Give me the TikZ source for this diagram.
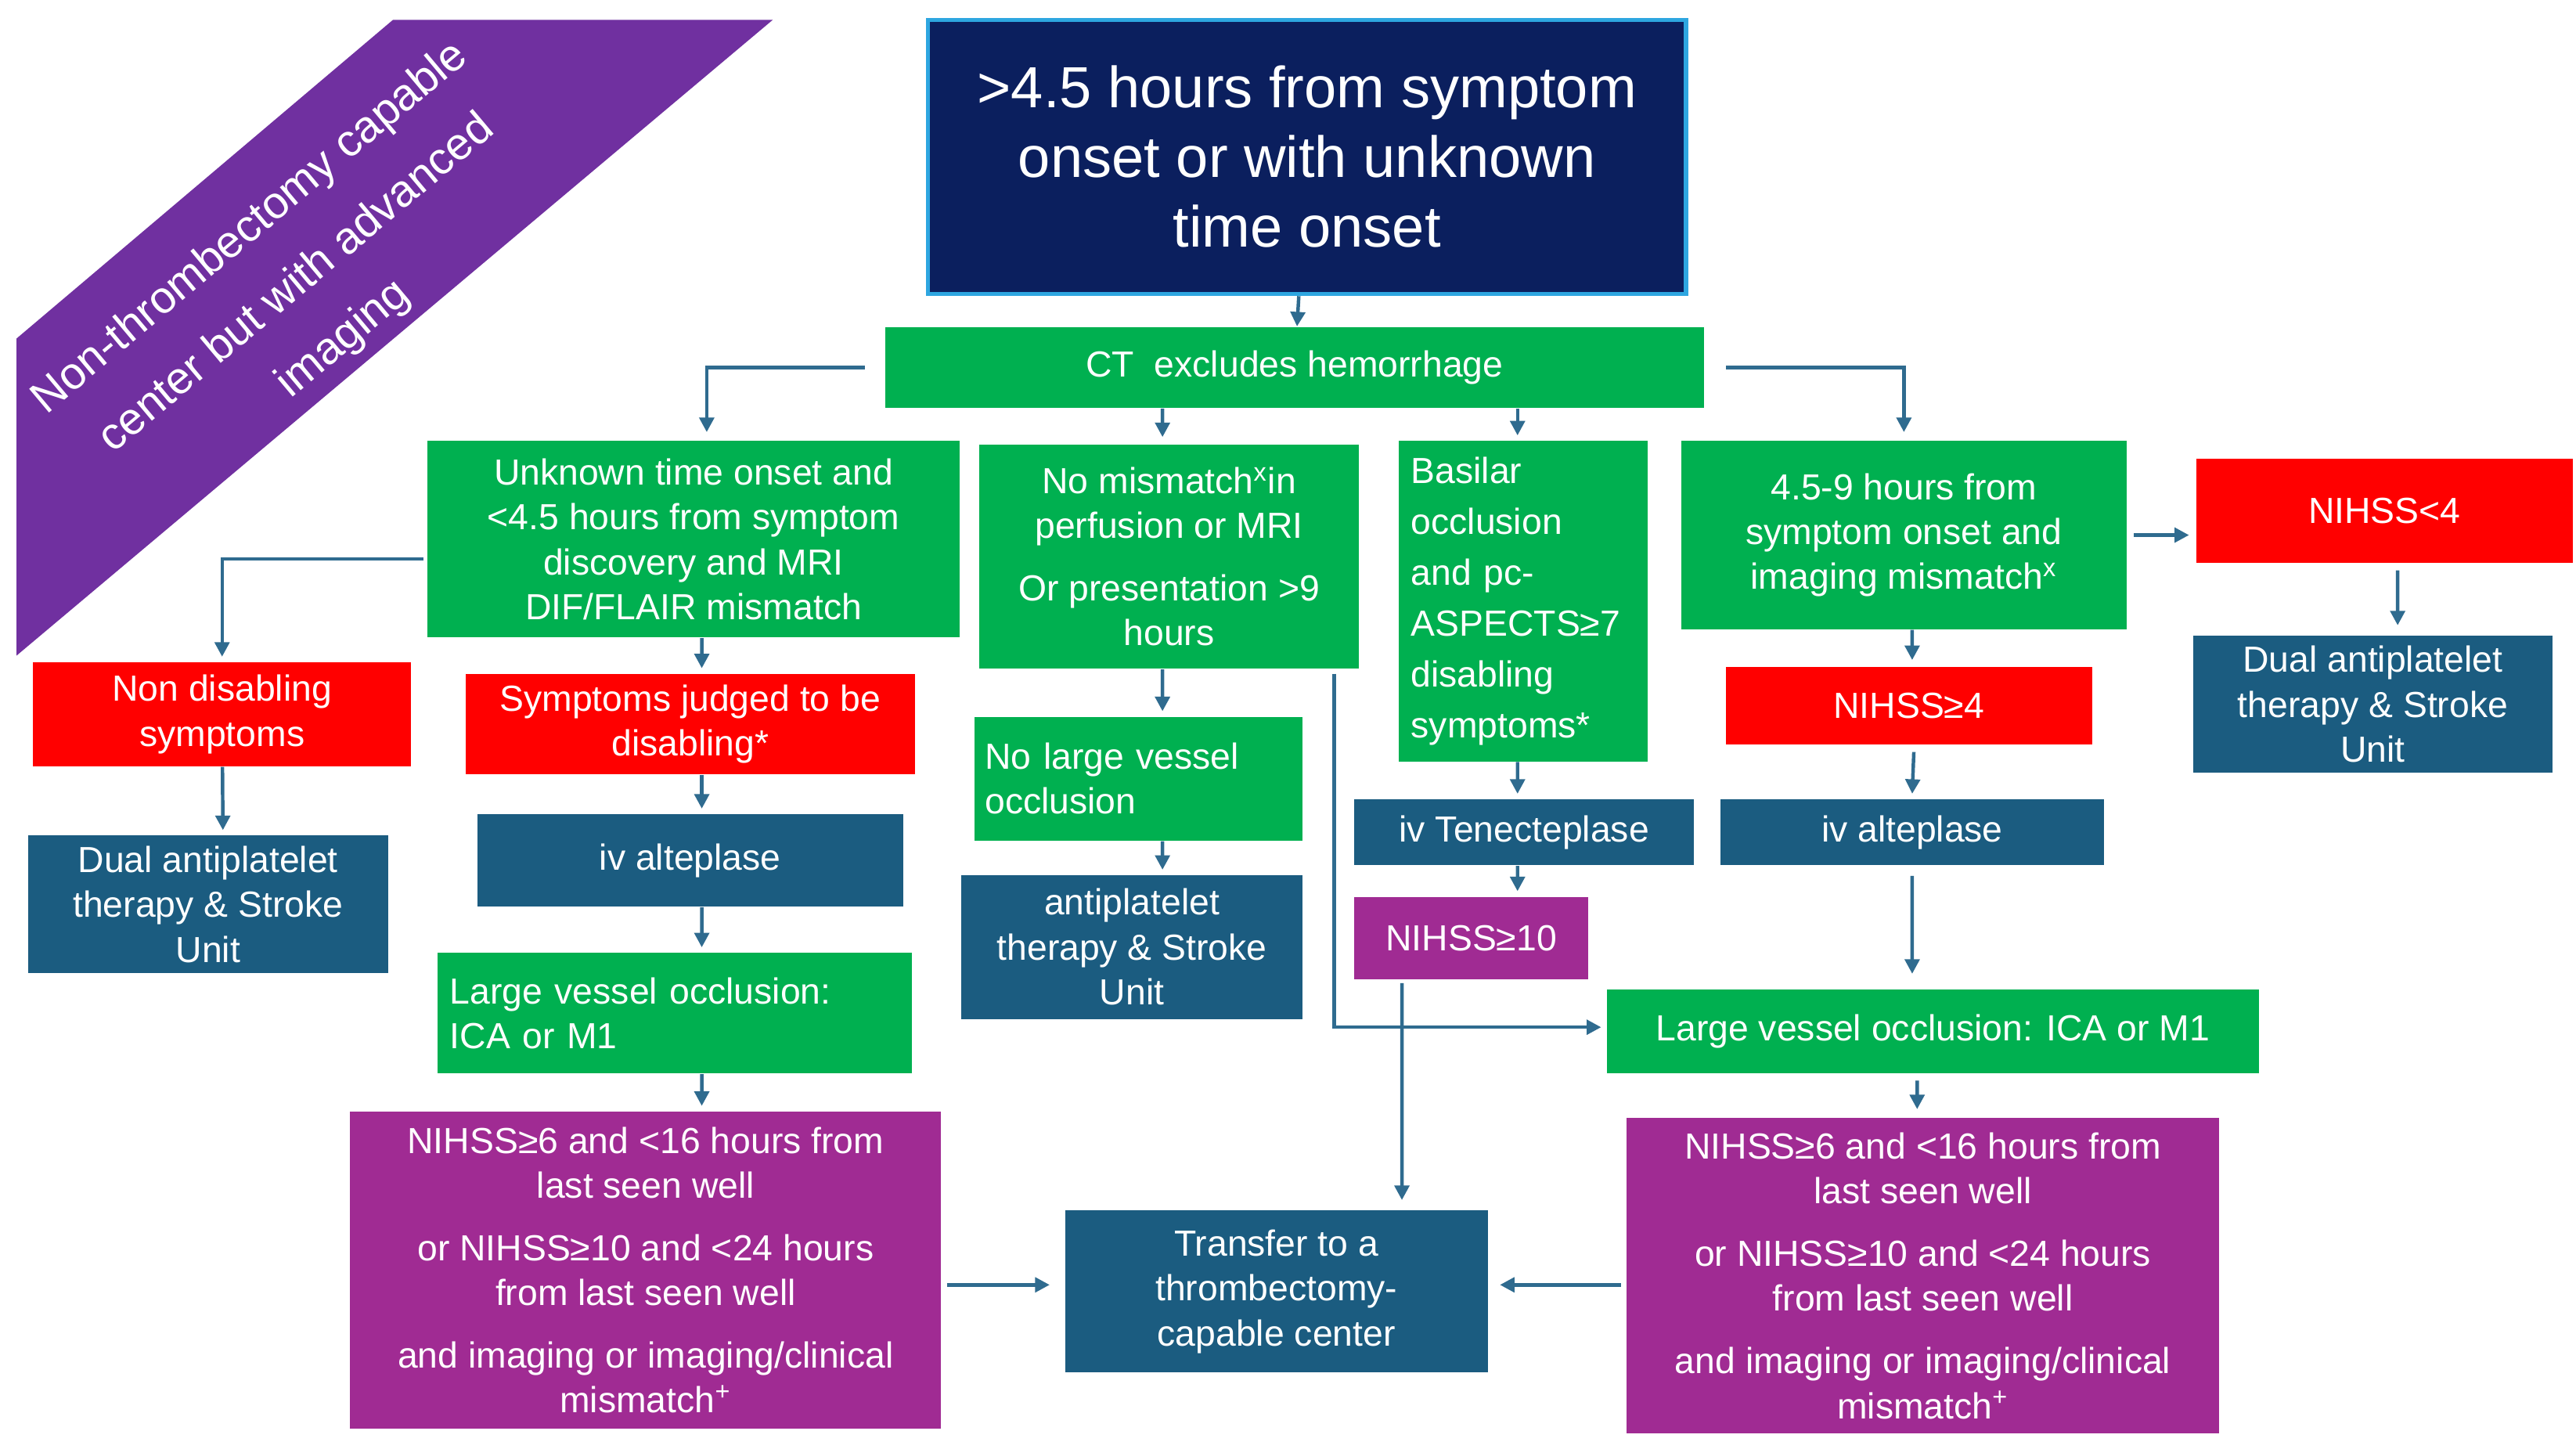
\documentclass[tikz,border=0pt]{standalone}
\usepackage{fontspec}
\setmainfont{Liberation Sans}
\usetikzlibrary{arrows.meta}
\definecolor{grn}{HTML}{00B050}
\definecolor{rd}{HTML}{FF0000}
\definecolor{bl}{HTML}{1B5C80}
\definecolor{pu}{HTML}{A02B93}
\definecolor{ban}{HTML}{7030A0}
\definecolor{navy}{HTML}{0B1F5E}
\definecolor{ln}{HTML}{2F6B8F}
\definecolor{lbl}{HTML}{2EA6E0}
\begin{document}
\begin{tikzpicture}[x=0.02cm,y=-0.02cm,
  bx/.style 2 args={minimum width=#1*0.02cm, minimum height=#2*0.02cm, inner sep=2pt, text=white, align=center, font=\fontsize{12.5}{15.5}\selectfont},
  g/.style={fill=grn}, r/.style={fill=rd}, b/.style={fill=bl}, p/.style={fill=pu},
  arr/.style={draw=ln, line width=1.2pt, -{Triangle[length=5pt,width=5pt]}}]
\useasboundingbox (0,0) rectangle (1560,877);
% banner
\fill[ban] (10,205) -- (238,12) -- (468,12) -- (10,397) -- cycle;
\node[rotate=40, text=white, align=center, font=\fontsize{15.5}{25}\selectfont] (ban) at (180,172) {Non-thrombectomy capable\\center but with advanced\\imaging};
% nodes
\node[bx={459}{166}, fill=navy, draw=lbl, line width=1.5pt, font=\fontsize{20}{24}\selectfont] (top) at (791.5,95) {>4.5 hours from symptom\\onset or with unknown\\time onset};
\node[bx={496}{49}, g] (ct) at (784,222.5) {CT \ excludes hemorrhage};
\node[bx={322}{119}, g] (unk) at (420,326.5) {Unknown time onset and\\<4.5 hours from symptom\\discovery and MRI\\DIF/FLAIR mismatch};
\node[bx={230}{136}, g] (nom) at (708,337) {No mismatch\textsuperscript{x}in\\perfusion or MRI\\[6pt]Or presentation >9\\hours};
\node[bx={151}{194}, g, align=left, font=\fontsize{12.5}{17.5}\selectfont, text width=136*0.02cm] (bas) at (922.5,364) {Basilar\\occlusion\\and pc-\\ASPECTS≥7\\disabling\\symptoms*};
\node[bx={270}{114}, g] (h45) at (1153,324) {4.5-9 hours from\\symptom onset and\\imaging mismatch\textsuperscript{x}};
\node[bx={228}{63}, r] (n4l) at (1444,309.5) {NIHSS<4};
\node[bx={218}{83}, b] (dualr) at (1437,426.5) {Dual antiplatelet\\therapy \& Stroke\\Unit};
\node[bx={229}{63}, r] (nond) at (134.5,432.5) {Non disabling\\symptoms};
\node[bx={272}{61}, r] (sym) at (418,438.5) {Symptoms judged to be\\disabling*};
\node[bx={222}{47}, r] (n4g) at (1156,427.5) {NIHSS≥4};
\node[bx={218}{83}, b] (duall) at (126,547.5) {Dual antiplatelet\\therapy \& Stroke\\Unit};
\node[bx={258}{56}, b] (alt1) at (418,521) {iv alteplase};
\node[bx={199}{75}, g, align=left, text width=186*0.02cm] (nolv) at (689.5,471.5) {No large vessel\\occlusion};
\node[bx={207}{87}, b] (anti) at (685.5,573.5) {antiplatelet\\therapy \& Stroke\\Unit};
\node[bx={206}{40}, b] (ten) at (923,504) {iv Tenecteplase};
\node[bx={232}{40}, b] (alt2) at (1158,504) {iv alteplase};
\node[bx={142}{50}, p] (n10) at (891,568) {NIHSS≥10};
\node[bx={287}{73}, g, align=left, text width=272*0.02cm] (lvo1) at (408.5,613.5) {Large vessel occlusion:\\ICA or M1};
\node[bx={395}{51}, g] (lvo2) at (1170.5,624.5) {Large vessel occlusion: ICA or M1};
\node[bx={358}{192}, p] (pl) at (391,769) {NIHSS≥6 and <16 hours from\\last seen well\\[6pt]or NIHSS≥10 and <24 hours\\from last seen well\\[6pt]and imaging or imaging/clinical\\mismatch\textsuperscript{+}};
\node[bx={256}{98}, b] (tr) at (773,782) {Transfer to a\\thrombectomy-\\capable center};
\node[bx={359}{191}, p] (pr) at (1164.5,772.5) {NIHSS≥6 and <16 hours from\\last seen well\\[6pt]or NIHSS≥10 and <24 hours\\from last seen well\\[6pt]and imaging or imaging/clinical\\mismatch\textsuperscript{+}};
% connectors
\draw[arr] (top) -- (ct);
\draw[arr] ([xshift=-0.24cm]ct.west) -| ([xshift=0.16cm,yshift=0.1cm]unk.north);
\draw[arr] (ct.south -| nom.north) ++(-4,0) -- ([xshift=-0.08cm,yshift=0.08cm]nom.north);
\draw[arr] ([xshift=-0.07cm]ct.south -| bas.north) -- ([xshift=-0.07cm,yshift=0.06cm]bas.north);
\draw[arr] ([xshift=0.26cm]ct.east) -| ([yshift=0.1cm]h45.north);
\draw[arr] ([xshift=-0.04cm,yshift=-0.24cm]unk.west) -| ([yshift=0.06cm]nond.north);
\draw[arr] ([xshift=0.1cm]unk.south) -- ([xshift=0.14cm,yshift=0.06cm]sym.north);
\draw[arr] ([xshift=0.14cm]sym.south) -- ([xshift=0.14cm,yshift=0.06cm]alt1.north);
\draw[arr] ([xshift=0.14cm]alt1.south) -- ([xshift=0.33cm,yshift=0.06cm]lvo1.north);
\draw[arr] ([xshift=0.33cm]lvo1.south) -- ([xshift=0.68cm,yshift=0.06cm]pl.north);
\draw[arr] (nond) -- ([xshift=0.18cm,yshift=0.06cm]duall.north);
\draw[arr] ([xshift=-0.08cm]nom.south) -- ([xshift=0.29cm,yshift=0.06cm]nolv.north);
\draw[arr] ([xshift=0.29cm]nolv.south) -- ([xshift=0.37cm,yshift=0.06cm]anti.north);
\coordinate (c1) at (808,408);
\draw[arr] (c1) |- ([xshift=-0.06cm,yshift=0.05cm]lvo2.west);
\draw[arr] ([xshift=-0.07cm]bas.south) -- ([xshift=-0.08cm,yshift=0.06cm]ten.north);
\draw[arr] ([xshift=-0.08cm]ten.south) -- ([xshift=0.56cm,yshift=0.06cm]n10.north);
\draw[arr] ([xshift=-0.84cm,yshift=-0.04cm]n10.south) -- ([xshift=1.52cm,yshift=0.12cm]tr.north);
\draw[arr] ([xshift=0.1cm]h45.south) -- ([xshift=0.04cm,yshift=0.08cm]n4g.north);
\draw[arr] ([xshift=0.08cm]h45.east) -- ([xshift=-0.08cm]n4l.west |- h45.east);
\draw[arr] ([xshift=0.16cm,yshift=-0.08cm]n4l.south) -- ([xshift=0.3cm,yshift=0.12cm]dualr.north);
\draw[arr] ([xshift=0.06cm,yshift=-0.08cm]n4g.south) -- ([yshift=0.06cm]alt2.north);
\draw[arr] ([yshift=-0.12cm]alt2.south) -- ([xshift=-0.25cm,yshift=0.18cm]lvo2.north);
\draw[arr] ([xshift=-0.19cm,yshift=-0.08cm]lvo2.south) -- ([xshift=-0.07cm,yshift=0.1cm]pr.north);
\draw[arr] ([xshift=0.06cm,yshift=0.08cm]pl.east |- tr.west) -- ([xshift=-0.18cm,yshift=0.08cm]tr.west);
\draw[arr] ([xshift=-0.06cm,yshift=0.08cm]pr.west |- tr.east) -- ([xshift=0.14cm,yshift=0.08cm]tr.east);
\end{tikzpicture}
\end{document}
